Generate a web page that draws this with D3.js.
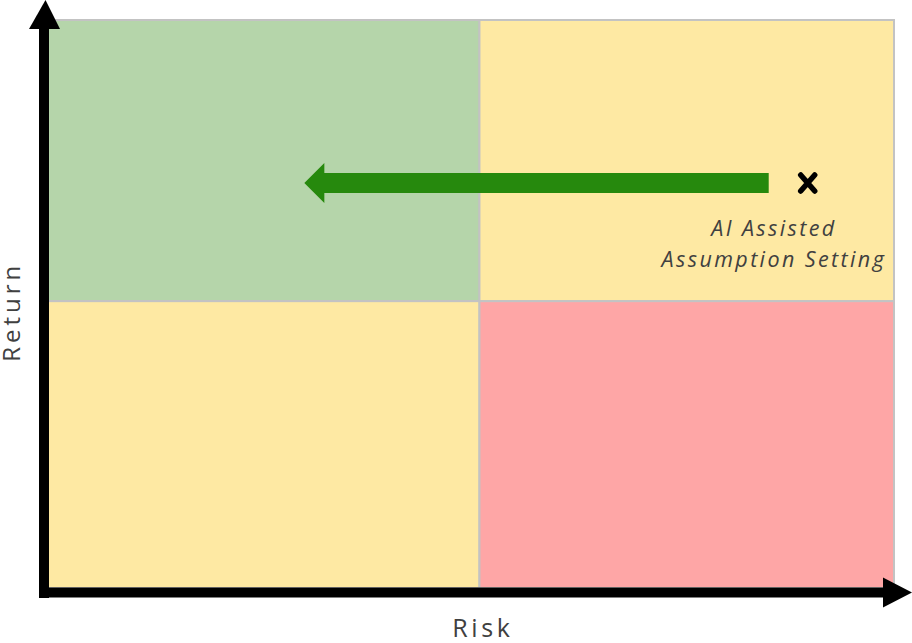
<!DOCTYPE html>
<html><head><meta charset="utf-8">
<script src="https://cdn.jsdelivr.net/npm/d3@7"></script>
<style>body{margin:0;background:#fff}svg{display:block}</style>
</head><body>
<svg id="c" width="912" height="643"></svg>
<script>
// Data
const riskBreaks = [0, 51, 100];      // x (Risk) quadrant boundaries
const returnBreaks = [0, 50.5, 100];  // y (Return) quadrant boundaries
const quadrants = [
  {name: "Low risk / High return", risk: 0, ret: 1, color: "#b5d5aa"},
  {name: "High risk / High return", risk: 1, ret: 1, color: "#fee9a3"},
  {name: "Low risk / Low return", risk: 0, ret: 0, color: "#fee9a3"},
  {name: "High risk / Low return", risk: 1, ret: 0, color: "#fea6a6"}
];
const pointRisk = [89.8];
const pointReturn = [71.3];
const pointLabel = ["AI Assisted", "Assumption Setting"];
const arrowTargetRisk = [30.3];
const axisLabels = ["Risk", "Return"];

const svg = d3.select("#c");
const x = d3.scaleLinear().domain([0, 100]).range([48, 894]);
const y = d3.scaleLinear().domain([0, 100]).range([588, 20]);

// Quadrants
svg.append("g").selectAll("rect").data(quadrants).join("rect")
  .attr("x", d => x(riskBreaks[d.risk]))
  .attr("y", d => y(returnBreaks[d.ret + 1]))
  .attr("width", d => x(riskBreaks[d.risk + 1]) - x(riskBreaks[d.risk]))
  .attr("height", d => y(returnBreaks[d.ret]) - y(returnBreaks[d.ret + 1]))
  .attr("fill", d => d.color)
  .attr("stroke", "#c3c3c3")
  .attr("stroke-width", 2);

// Axes
const ax = svg.append("g");
const x0 = 44, yAx = 592.5;
ax.append("line").attr("x1", x0).attr("x2", x0).attr("y1", 598).attr("y2", 26)
  .attr("stroke", "#000").attr("stroke-width", 10);
ax.append("path").attr("d", `M${x0-15},29 L${x0+1.5},0 L${x0+16},29 Z`).attr("fill", "#000");
ax.append("line").attr("x1", 39).attr("x2", 885).attr("y1", yAx).attr("y2", yAx)
  .attr("stroke", "#000").attr("stroke-width", 10);
ax.append("path").attr("d", `M883,${yAx-15} L912,${yAx} L883,${yAx+15} Z`).attr("fill", "#000");

const ls = 3.6;
ax.append("text").attr("x", 481 + ls / 2).attr("y", 637).attr("text-anchor", "middle")
  .attr("font-family", "Open Sans, sans-serif").attr("font-size", 25).attr("fill", "#404040")
  .attr("letter-spacing", ls)
  .text(axisLabels[0]);
ax.append("text").attr("transform", `translate(19.5,${310 + ls / 2}) rotate(-90)`).attr("text-anchor", "middle")
  .attr("font-family", "Open Sans, sans-serif").attr("font-size", 24).attr("fill", "#404040")
  .attr("letter-spacing", ls + 0.4)
  .text(axisLabels[1]);

// Green arrow
const px = x(pointRisk[0]), py = y(pointReturn[0]);
const tx = x(arrowTargetRisk[0]);
const g = svg.append("g");
g.append("path")
  .attr("d", `M${px-39},${py-10} L${tx+20},${py-10} L${tx+20},${py-20} L${tx},${py} L${tx+20},${py+20} L${tx+20},${py+10} L${px-39},${py+10} Z`)
  .attr("fill", "#26890d");

// X marker
g.append("path")
  .attr("d", `M${px-7},${py-8} L${px+7},${py+8} M${px+7},${py-8} L${px-7},${py+8}`)
  .attr("stroke", "#000").attr("stroke-width", 5.5).attr("stroke-linecap", "round");

// Label
const lls = 2.4;
const lab = g.append("text").attr("text-anchor", "middle")
  .attr("font-family", "Open Sans, sans-serif").attr("font-style", "italic")
  .attr("font-size", 21.5).attr("fill", "#404040").attr("letter-spacing", lls);
lab.selectAll("tspan").data(pointLabel).join("tspan")
  .attr("x", px - 35 + lls / 2).attr("y", (d, i) => py + 53 + i * 31).text(d => d);
</script>
</body></html>
